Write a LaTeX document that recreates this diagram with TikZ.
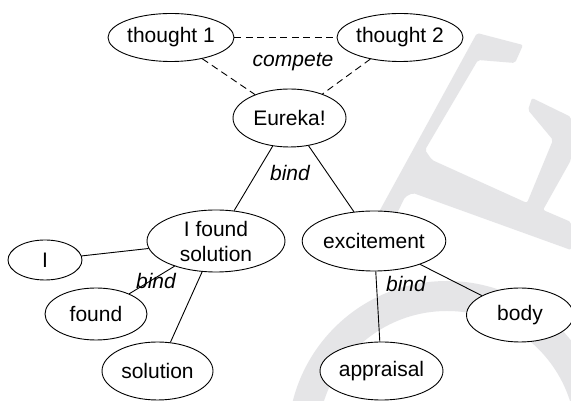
\documentclass[tikz,border=0pt]{standalone}
\usepackage{fontspec}
\setmainfont{Liberation Sans}
\usetikzlibrary{shapes.geometric}
\definecolor{markgray}{RGB}{229,229,231}

\begin{document}
\begin{tikzpicture}[x=10pt,y=10pt,
		idea/.style={ellipse,draw,fill=white,line width=0.9pt,inner sep=0pt,font=\fontsize{21}{25}\selectfont},
		rel/.style={font=\fontsize{21}{25}\selectfont\itshape},
		tie/.style={line width=0.9pt},
		rival/.style={tie,dash pattern=on 7pt off 4.5pt}]
		\useasboundingbox (0,0) rectangle (57.1,40.1);
		\fill[white] (0,0) rectangle (57.1,40.1);

		%watermark
		\begin{scope}
			\clip (0,0) rectangle (57.1,40.1);
			\draw[markgray,line width=30pt] (44.7,-3.9) circle[radius=14.4];
			\fill[markgray,rounded corners=2pt] (47.7,36.8) -- (52.3,35.6) -- (51.5,33.8) -- (47.8,34.1)
				-- (42.5,25.1) -- (43.2,24.1) -- (52.7,19.8) -- (55.3,26.1) -- (52.8,29.1) -- (53.2,30.3)
				-- (57.1,28.4) -- (57.1,24.1) -- (54.3,19.1) -- (57.1,17.9) -- (57.1,15.1) -- (41.3,20.8)
				-- (40.5,20.4) -- (38.8,16.9) -- (36.8,16.9) -- cycle;
		\end{scope}

		%concepts
		\node[idea,minimum width=126pt,minimum height=48pt] (th1) at (17.1,36.35) {thought 1};
		\node[idea,minimum width=126pt,minimum height=48pt] (th2) at (40.0,36.35) {thought 2};
		\node[idea,minimum width=113pt,minimum height=58pt] (eureka) at (28.95,28.3) {Eureka!};
		\node[idea,minimum width=138pt,minimum height=62pt,align=center] (ifound) at (21.6,16.0) {I found\\solution};
		\node[idea,minimum width=138pt,minimum height=60pt] (excite) at (37.4,16.0) {excitement};
		\node[idea,minimum width=74pt,minimum height=40pt] (i) at (4.5,14.1) {I};
		\node[idea,minimum width=102pt,minimum height=52pt] (found) at (9.6,8.7) {found};
		\node[idea,minimum width=111pt,minimum height=58pt] (solution) at (15.75,3.0) {solution};
		\node[idea,minimum width=123pt,minimum height=58pt] (appraisal) at (38.15,3.0) {appraisal};
		\node[idea,minimum width=107pt,minimum height=54pt] (body) at (52.0,8.6) {body};

		%compete
		\draw[rival] (th1) -- (th2);
		\draw[rival] (th1) -- (eureka);
		\draw[rival] (th2) -- (eureka);
		\node[rel] (compete) at (29.3,33.9) {compete};

		%bind
		\draw[tie] (eureka) -- (ifound);
		\draw[tie] (eureka) -- (excite);
		\node[rel] (bindtop) at (29.0,22.8) {bind};

		\draw[tie] (ifound) -- (i);
		\draw[tie] (ifound) -- (found);
		\draw[tie] (ifound) -- (solution);
		\node[rel] (bindleft) at (15.6,12.0) {bind};

		\draw[tie] (excite) -- (appraisal);
		\draw[tie] (excite) -- (body);
		\node[rel] (bindright) at (40.6,11.7) {bind};

	\end{tikzpicture}
\end{document}
